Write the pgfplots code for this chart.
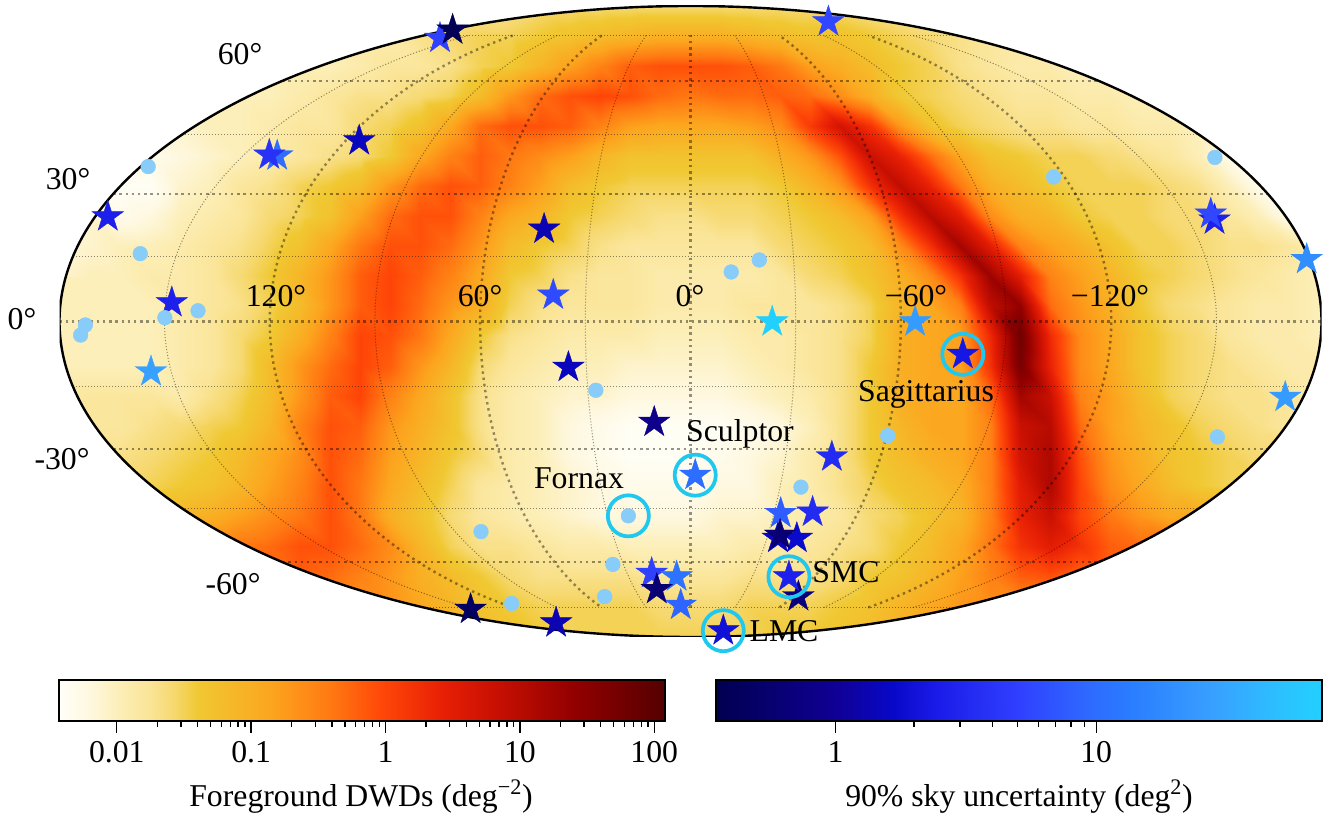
\documentclass[border=0pt]{standalone}
\usepackage{fontspec}
\setmainfont{Liberation Serif}
\usepackage{pgfplots}
\pgfplotsset{compat=1.18}

\definecolor{ringc}{RGB}{32,200,240}
\definecolor{ptc}{RGB}{136,204,250}

\pgfplotsset{
  colormap={heat}{
    rgb255(0)=(255,255,248) rgb255(5)=(254,248,224) rgb255(10)=(252,238,182)
    rgb255(15)=(250,228,150) rgb255(19)=(246,216,110)
    rgb255(23)=(240,200,50) rgb255(35)=(252,165,30) rgb255(45)=(255,120,18)
    rgb255(53)=(255,72,8) rgb255(63)=(232,32,5) rgb255(72)=(200,16,2)
    rgb255(85)=(146,0,0) rgb255(95)=(106,0,0) rgb255(100)=(85,0,0)},
  colormap={blues}{
    rgb255(0)=(0,0,80) rgb255(20)=(16,0,150) rgb255(29)=(8,8,200)
    rgb255(36)=(26,26,232) rgb255(50)=(48,64,255) rgb255(61)=(46,104,255)
    rgb255(68)=(42,124,255) rgb255(82)=(56,160,255) rgb255(93)=(44,192,255)
    rgb255(100)=(34,208,255)},
}

% filled five-point star
\pgfdeclareplotmark{fstar}{%
  \pgfpathmoveto{\pgfpointpolar{90}{\pgfplotmarksize}}%
  \pgfpathlineto{\pgfpointpolar{126}{0.382\pgfplotmarksize}}%
  \pgfpathlineto{\pgfpointpolar{162}{\pgfplotmarksize}}%
  \pgfpathlineto{\pgfpointpolar{198}{0.382\pgfplotmarksize}}%
  \pgfpathlineto{\pgfpointpolar{234}{\pgfplotmarksize}}%
  \pgfpathlineto{\pgfpointpolar{270}{0.382\pgfplotmarksize}}%
  \pgfpathlineto{\pgfpointpolar{306}{\pgfplotmarksize}}%
  \pgfpathlineto{\pgfpointpolar{342}{0.382\pgfplotmarksize}}%
  \pgfpathlineto{\pgfpointpolar{18}{\pgfplotmarksize}}%
  \pgfpathlineto{\pgfpointpolar{54}{0.382\pgfplotmarksize}}%
  \pgfpathclose\pgfusepathqfillstroke}

\tikzset{
  gthick/.style={draw=black,opacity=.42,line width=1.8pt,dash pattern=on 1.8pt off 2.85pt},
  gthin/.style={draw=black,opacity=.45,line width=.75pt,dash pattern=on .75pt off 1.5pt},
}
% meridian pair, radius in units of the half height
\newcommand\merid[2]{%
  \draw[#1] (axis cs:{#2*0.4226},-0.9063) arc[start angle=-65,end angle=65,x radius=#2,y radius=1];
  \draw[#1] (axis cs:{-#2*0.4226},0.9063) arc[start angle=115,end angle=245,x radius=#2,y radius=1];}
\newcommand\lat[3]{%
  \draw[#1] (axis cs:-#2,#3) -- (axis cs:#2,#3);}
% text placed by reference pixel
\newcommand\lbl[3]{\node[font=\fontsize{23.8}{28}\selectfont,inner sep=0pt] at ({#1*0.75pt},{(813-#2)*0.75pt}) {#3};}

\begin{document}
\begin{tikzpicture}
\useasboundingbox (0,0) rectangle (994.5pt,609.75pt);

% density map, log10(density)*10 at reference pixels x=60,90,...,1320 per line, lines y=636,606,...,6
\begin{axis}[
  at={(44.625pt,132pt)},anchor=south west,scale only axis,
  width=946.5pt,height=473.25pt,
  xmin=-2,xmax=2,ymin=-1,ymax=1,hide axis,
  colormap name=heat,point meta min=-24.3,point meta max=20.8,
]
\addplot[surf,shader=interp,mesh/cols=43,mesh/ordering=x varies,point meta=explicit]
 table[row sep=crcr,header=false,meta index=0,
   x expr={(60+30*mod(\coordindex,43)-690.5)/315.5},
   y expr={(321.5-636+30*floor(\coordindex/43))/315.5}]{
-10\\-10\\-10\\-10\\-10\\-10\\-10\\-10\\-10\\-10\\-10\\-10\\-10\\-10\\-12\\-13\\-14\\-15\\-15\\-15\\-15\\-15\\-15\\-15\\-14\\-14\\-13\\-12\\-10\\-9\\-8\\-8\\-8\\-8\\-8\\-8\\-8\\-8\\-8\\-8\\-8\\-8\\-8\\
-7\\-7\\-7\\-7\\-7\\-7\\-7\\-7\\-7\\-7\\-7\\-7\\-9\\-11\\-13\\-14\\-15\\-15\\-15\\-15\\-16\\-16\\-16\\-15\\-15\\-15\\-14\\-13\\-11\\-9\\-7\\-6\\-6\\-6\\-6\\-6\\-6\\-6\\-6\\-6\\-6\\-6\\-6\\
-2\\-2\\-2\\-2\\-2\\-2\\-2\\-2\\-2\\-3\\-5\\-7\\-10\\-12\\-14\\-16\\-17\\-17\\-17\\-17\\-18\\-18\\-18\\-17\\-17\\-17\\-16\\-14\\-13\\-11\\-8\\-5\\-2\\-1\\-3\\-3\\-3\\-3\\-3\\-3\\-3\\-3\\-3\\
-4\\-4\\-4\\-4\\-4\\-4\\-4\\-3\\-1\\-1\\-3\\-6\\-11\\-15\\-17\\-17\\-18\\-19\\-19\\-20\\-20\\-20\\-20\\-19\\-19\\-18\\-17\\-16\\-14\\-12\\-9\\-4\\2\\5\\2\\-2\\-3\\-3\\-3\\-3\\-3\\-3\\-3\\
-11\\-11\\-11\\-11\\-11\\-10\\-8\\-6\\-4\\-1\\-4\\-10\\-13\\-16\\-18\\-19\\-20\\-21\\-22\\-22\\-22\\-22\\-21\\-21\\-20\\-19\\-18\\-16\\-15\\-13\\-11\\-5\\4\\8\\0\\-4\\-7\\-9\\-9\\-9\\-9\\-9\\-9\\
-15\\-15\\-15\\-15\\-14\\-13\\-11\\-8\\-5\\-1\\-4\\-9\\-12\\-15\\-18\\-19\\-20\\-21\\-22\\-23\\-23\\-23\\-22\\-22\\-20\\-19\\-17\\-15\\-13\\-12\\-10\\-5\\5\\11\\0\\-6\\-9\\-12\\-14\\-15\\-15\\-15\\-15\\
-17\\-17\\-17\\-16\\-15\\-14\\-12\\-9\\-6\\-1\\-3\\-8\\-11\\-14\\-16\\-19\\-20\\-22\\-23\\-24\\-24\\-24\\-23\\-22\\-21\\-19\\-17\\-14\\-12\\-10\\-9\\-5\\7\\11\\-1\\-7\\-10\\-13\\-14\\-15\\-16\\-16\\-17\\
-18\\-18\\-18\\-17\\-16\\-15\\-14\\-11\\-5\\-1\\-2\\-7\\-10\\-13\\-17\\-19\\-20\\-22\\-23\\-24\\-24\\-24\\-24\\-23\\-22\\-20\\-17\\-14\\-11\\-9\\-9\\-5\\8\\10\\-3\\-8\\-11\\-13\\-15\\-16\\-17\\-18\\-19\\
-18\\-18\\-18\\-18\\-19\\-17\\-15\\-12\\-7\\-2\\0\\-5\\-9\\-13\\-17\\-19\\-20\\-21\\-21\\-22\\-22\\-22\\-22\\-21\\-20\\-19\\-17\\-14\\-10\\-9\\-9\\-3\\12\\8\\-5\\-8\\-12\\-15\\-16\\-17\\-17\\-18\\-19\\
-20\\-20\\-20\\-20\\-19\\-18\\-16\\-12\\-7\\-3\\0\\-2\\-7\\-11\\-16\\-18\\-19\\-20\\-20\\-21\\-21\\-21\\-21\\-20\\-19\\-18\\-17\\-14\\-10\\-9\\-8\\2\\17\\4\\-6\\-9\\-13\\-15\\-16\\-17\\-18\\-19\\-19\\
-20\\-20\\-20\\-20\\-19\\-18\\-16\\-14\\-10\\-5\\0\\-1\\-4\\-9\\-14\\-17\\-18\\-19\\-19\\-19\\-20\\-20\\-20\\-19\\-19\\-18\\-17\\-15\\-10\\-9\\-8\\3\\18\\3\\-6\\-9\\-13\\-15\\-16\\-18\\-19\\-19\\-20\\
-20\\-20\\-20\\-20\\-19\\-18\\-17\\-15\\-12\\-7\\-2\\0\\-3\\-7\\-10\\-15\\-17\\-18\\-18\\-18\\-19\\-19\\-19\\-18\\-18\\-18\\-17\\-15\\-11\\-9\\-5\\9\\14\\-3\\-7\\-10\\-14\\-16\\-17\\-18\\-19\\-19\\-20\\
-20\\-20\\-20\\-19\\-19\\-18\\-16\\-14\\-11\\-7\\-2\\0\\-2\\-5\\-9\\-14\\-15\\-17\\-18\\-18\\-19\\-19\\-19\\-19\\-18\\-16\\-15\\-13\\-10\\-6\\2\\13\\5\\-5\\-8\\-11\\-14\\-15\\-16\\-17\\-18\\-19\\-20\\
-21\\-21\\-20\\-20\\-19\\-18\\-17\\-15\\-13\\-9\\-4\\-1\\-1\\-3\\-7\\-12\\-14\\-15\\-17\\-18\\-18\\-18\\-18\\-18\\-16\\-15\\-14\\-12\\-6\\2\\12\\5\\-5\\-8\\-10\\-13\\-15\\-15\\-16\\-17\\-17\\-18\\-19\\
-21\\-21\\-23\\-22\\-20\\-19\\-18\\-16\\-15\\-13\\-8\\-3\\-1\\-1\\-5\\-9\\-11\\-14\\-15\\-16\\-17\\-17\\-16\\-16\\-15\\-14\\-12\\-8\\2\\10\\5\\-6\\-10\\-11\\-14\\-15\\-15\\-16\\-16\\-18\\-20\\-23\\-23\\
-24\\-24\\-24\\-24\\-21\\-20\\-18\\-17\\-15\\-14\\-12\\-7\\-3\\-1\\-2\\-5\\-8\\-12\\-14\\-15\\-15\\-15\\-15\\-15\\-14\\-11\\-7\\2\\9\\4\\-4\\-10\\-12\\-14\\-15\\-15\\-15\\-16\\-17\\-20\\-23\\-24\\-24\\
-22\\-22\\-22\\-23\\-22\\-21\\-20\\-19\\-18\\-17\\-16\\-14\\-9\\-5\\-2\\-4\\-6\\-8\\-11\\-13\\-13\\-13\\-13\\-13\\-10\\-7\\-1\\8\\4\\-3\\-9\\-13\\-14\\-15\\-15\\-16\\-17\\-18\\-20\\-23\\-23\\-23\\-23\\
-21\\-21\\-21\\-21\\-21\\-20\\-20\\-19\\-18\\-18\\-16\\-15\\-13\\-9\\-3\\-1\\-1\\-2\\-5\\-8\\-9\\-9\\-9\\-8\\-6\\1\\7\\2\\-7\\-13\\-15\\-16\\-17\\-17\\-18\\-18\\-19\\-19\\-20\\-21\\-21\\-21\\-21\\
-20\\-20\\-20\\-20\\-20\\-20\\-20\\-20\\-19\\-18\\-17\\-17\\-16\\-15\\-12\\-7\\-3\\-1\\0\\-1\\-3\\-4\\-3\\-3\\-2\\-3\\-6\\-10\\-14\\-15\\-16\\-17\\-18\\-18\\-19\\-19\\-20\\-20\\-20\\-20\\-20\\-20\\-20\\
-20\\-20\\-20\\-20\\-20\\-20\\-20\\-20\\-20\\-20\\-19\\-18\\-18\\-17\\-15\\-14\\-11\\-8\\-5\\-2\\-1\\-1\\-1\\-2\\-4\\-8\\-10\\-12\\-14\\-15\\-17\\-18\\-19\\-19\\-20\\-20\\-20\\-20\\-20\\-20\\-20\\-20\\-20\\
-19\\-19\\-19\\-19\\-19\\-19\\-19\\-19\\-19\\-19\\-19\\-19\\-17\\-16\\-15\\-15\\-14\\-13\\-12\\-11\\-10\\-10\\-10\\-11\\-12\\-13\\-13\\-14\\-15\\-16\\-17\\-18\\-18\\-18\\-18\\-18\\-18\\-18\\-18\\-18\\-18\\-18\\-18\\
-18\\-18\\-18\\-18\\-18\\-18\\-18\\-18\\-18\\-18\\-18\\-18\\-18\\-18\\-18\\-17\\-16\\-16\\-16\\-16\\-16\\-16\\-16\\-16\\-16\\-16\\-16\\-17\\-18\\-18\\-18\\-18\\-18\\-18\\-18\\-18\\-18\\-18\\-18\\-18\\-18\\-18\\-18\\
};
% area outside the sky ellipse
\fill[white,even odd rule] (axis cs:-2.1,-1.1) rectangle (axis cs:2.1,1.1) (axis cs:0,0) ellipse[x radius=2,y radius=1];
% graticule
\draw[gthick] (axis cs:0,-0.9066) -- (axis cs:0,0.9066);
\merid{gthick}{0.6667}
\merid{gthick}{1.3333}
\merid{gthin}{0.3333}
\merid{gthin}{1}
\merid{gthin}{1.6667}
\lat{gthick}{2}{0}
\lat{gthin}{1.958}{0.2047}
\lat{gthin}{1.958}{-0.2047}
\lat{gthick}{1.830}{0.404}
\lat{gthick}{1.830}{-0.404}
\lat{gthin}{1.612}{0.592}
\lat{gthin}{1.612}{-0.592}
\lat{gthick}{1.294}{0.7624}
\lat{gthick}{1.294}{-0.7624}
\lat{gthin}{0.844}{0.9066}
\lat{gthin}{0.844}{-0.9066}
\draw[black,line width=1.8pt] (axis cs:0,0) ellipse[x radius=2,y radius=1];
\end{axis}

% events
\begin{axis}[
  at={(44.625pt,132pt)},anchor=south west,scale only axis,
  width=946.5pt,height=473.25pt,
  xmin=-2,xmax=2,ymin=-1,ymax=1,hide axis,clip=false,
  colormap name=blues,point meta min=-0.458,point meta max=1.866,
]
\addplot[scatter,only marks,mark=fstar,mark size=12.4pt,
  mark options={line width=.3pt},
  point meta={log10(\thisrow{u})},
  scatter/use mapped color={draw=mapped color,fill=mapped color}]
 table{
x y u
-0.794 0.898 5.06
-0.754 0.924 0.37
-1.050 0.573 1.48
-1.310 0.525 10.1
-1.335 0.528 3.87
-1.847 0.332 2.66
-1.644 0.060 2.66
0.437 0.950 5.63
-0.464 0.293 1.33
-0.435 0.084 5.94
0.259 -0.001 73
1.661 0.322 2.66
1.649 0.341 5.63
1.953 0.197 19.3
0.712 -0.001 25.2
-1.710 -0.159 28
-0.697 -0.912 0.455
-0.387 -0.145 1.48
-0.115 -0.319 0.865
0.015 -0.487 10.1
0.448 -0.429 3.3
0.286 -0.608 7.76
0.387 -0.604 3.3
0.277 -0.687 1.48
0.337 -0.687 1.73
0.284 -0.677 0.594
0.342 -0.872 0.662
0.312 -0.809 2.66
-0.123 -0.798 5.06
-0.044 -0.809 11.3
-0.031 -0.899 8.63
-0.107 -0.849 0.594
-0.426 -0.955 1.33
0.104 -0.980 1.93
0.863 -0.104 2.26
1.885 -0.240 25.2
};
\addplot[only marks,mark=*,mark size=5.5pt,mark options={draw=ptc,fill=ptc}]
 coordinates{
(-1.719,0.491) (-1.744,0.215) (-1.561,0.034) (-1.666,0.012) (-1.918,-0.011)
(-1.933,-0.043) (0.218,0.195) (0.129,0.157) (1.662,0.520) (1.151,0.458)
(-0.664,-0.666) (-0.300,-0.218) (-0.197,-0.616) (0.350,-0.525) (0.625,-0.362)
(-0.246,-0.770) (-0.272,-0.872) (-0.567,-0.894) (1.670,-0.366)
};
\addplot[only marks,mark=o,mark size=15.4pt,mark options={draw=ringc,line width=2.8pt}]
 coordinates{(0.015,-0.487) (-0.197,-0.616) (0.312,-0.809) (0.104,-0.980) (0.863,-0.104)};
\end{axis}

% colour bars
\begin{axis}[
  at={(44.25pt,69pt)},anchor=south west,scale only axis,axis on top,
  width=454.5pt,height=30.75pt,
  xmode=log,xmin=0.003715,xmax=120.2,ymin=0,ymax=1,
  ytick=\empty,xtick={0.01,0.1,1,10,100},xticklabels={0.01,0.1,1,10,100},
  xtick pos=bottom,tick align=outside,
  major tick length=9pt,minor tick length=4.5pt,
  every tick/.style={black,line width=1pt},
  axis line style={line width=1.6pt},
  xticklabel style={font=\fontsize{23.8}{28}\selectfont},
  tick label style={yshift=-3pt},
  colormap name=heat,point meta min=-24.3,point meta max=20.8,
]
\addplot[surf,shader=interp,mesh/cols=7,mesh/ordering=y varies,point meta=explicit]
 table[meta=m]{
x y m
0.003715 0 -24.3
0.003715 1 -24.3
0.01 0 -20
0.01 1 -20
0.1 0 -10
0.1 1 -10
1 0 0
1 1 0
10 0 10
10 1 10
100 0 20
100 1 20
120.2 0 20.8
120.2 1 20.8
};
\end{axis}
\begin{axis}[
  at={(537pt,69pt)},anchor=south west,scale only axis,axis on top,
  width=454.5pt,height=30.75pt,
  xmode=log,xmin=0.348,xmax=73.5,ymin=0,ymax=1,
  ytick=\empty,xtick={1,10},xticklabels={1,10},
  xtick pos=bottom,tick align=outside,
  major tick length=9pt,minor tick length=4.5pt,
  every tick/.style={black,line width=1pt},
  axis line style={line width=1.6pt},
  xticklabel style={font=\fontsize{23.8}{28}\selectfont},
  tick label style={yshift=-3pt},
  colormap name=blues,point meta min=-0.458,point meta max=1.866,
]
\addplot[surf,shader=interp,mesh/cols=4,mesh/ordering=y varies,point meta=explicit]
 table[meta=m]{
x y m
0.348 0 -0.458
0.348 1 -0.458
1 0 0
1 1 0
10 0 1
10 1 1
73.5 0 1.866
73.5 1 1.866
};
\end{axis}

\lbl{240}{54}{60°}
\lbl{68}{179}{30°}
\lbl{22}{319}{0°}
\lbl{62}{459}{-30°}
\lbl{233}{584}{-60°}
\lbl{276}{296}{120°}
\lbl{480}{296}{60°}
\lbl{690}{296}{0°}
\lbl{916}{296}{−60°}
\lbl{1110}{296}{−120°}
\lbl{926}{394}{Sagittarius}
\lbl{740}{434}{Sculptor}
\lbl{579}{478}{Fornax}
\lbl{846}{572}{SMC}
\lbl{784}{631}{LMC}
\lbl{361}{797}{Foreground DWDs (deg\textsuperscript{−2})}
\lbl{1019}{797}{90\% sky uncertainty (deg\textsuperscript{2})}
\end{tikzpicture}
\end{document}
